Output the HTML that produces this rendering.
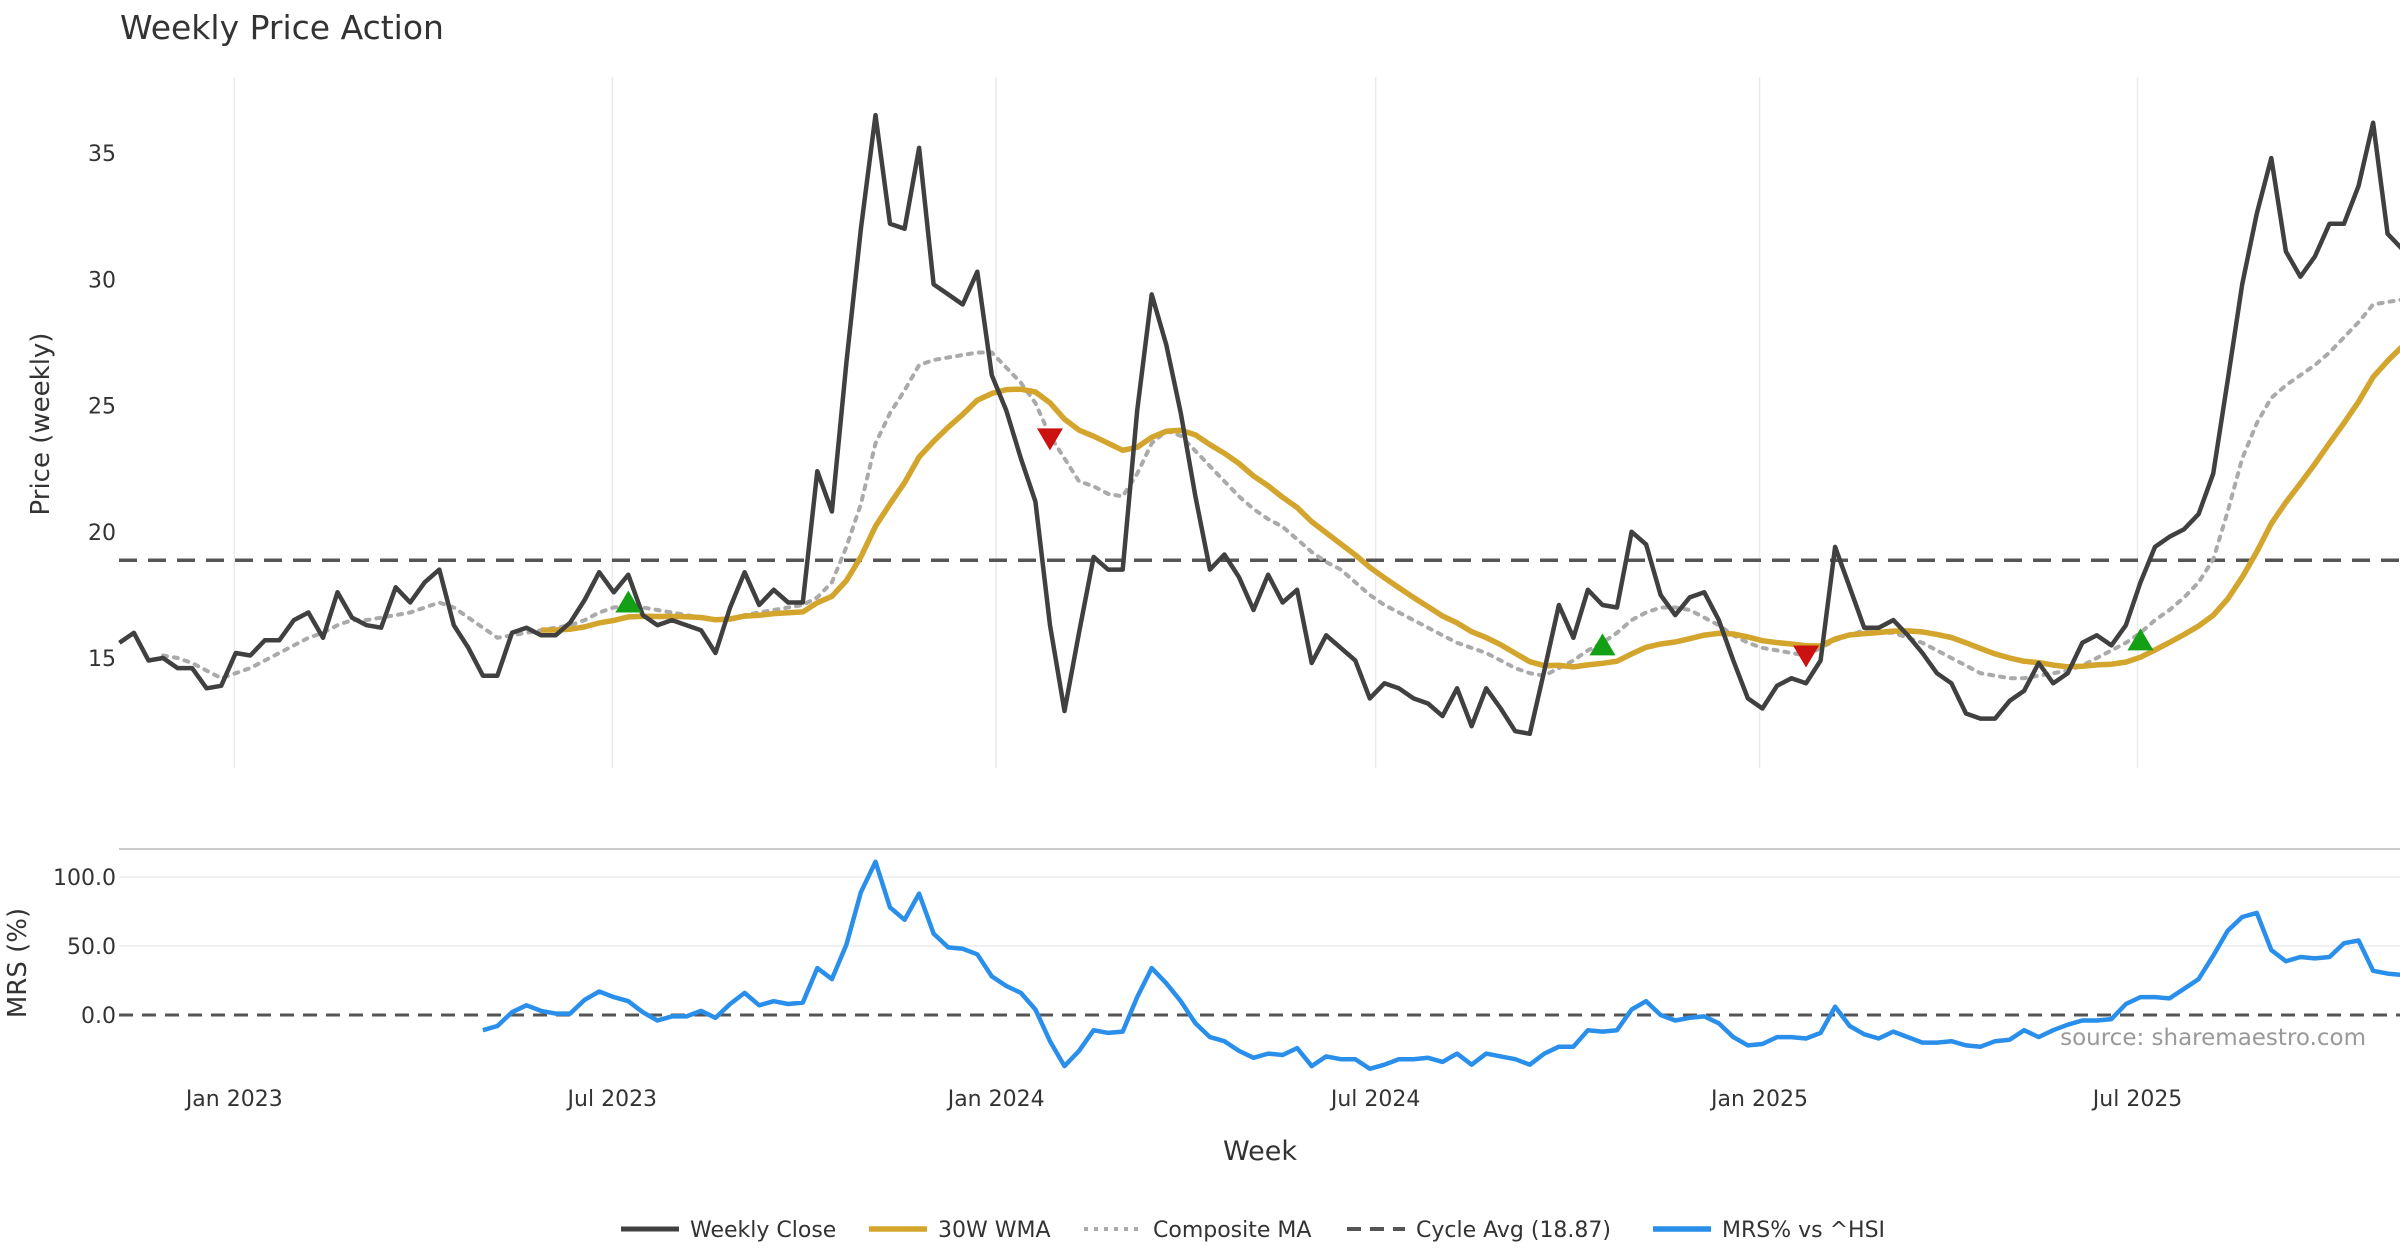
<!DOCTYPE html>
<html><head><meta charset="utf-8"><style>
html,body{margin:0;padding:0;background:#fff;width:2400px;height:1260px;overflow:hidden;font-family:"DejaVu Sans",sans-serif;}
svg text{font-family:"DejaVu Sans","Liberation Sans",sans-serif;}
</style></head><body>
<svg id="chart" width="2400" height="1260" xmlns="http://www.w3.org/2000/svg">
<text x="120" y="39" font-size="33" fill="#333">Weekly Price Action</text>
<g id="grid"></g>
<g id="price"></g>
<g id="mrs"></g>
<g id="axes"></g>
<text transform="translate(49,424) rotate(-90)" text-anchor="middle" font-size="26" fill="#333">Price (weekly)</text>
<text transform="translate(26,963) rotate(-90)" text-anchor="middle" font-size="26" fill="#333">MRS (%)</text>
<text x="1260" y="1160" text-anchor="middle" font-size="27" fill="#333">Week</text>
<text x="2366" y="1045" text-anchor="end" font-size="23" fill="#999">source: sharemaestro.com</text>
<g id="legend"></g>
</svg>
<script>
const closes=[15.6,16.0,14.9,15.0,14.6,14.6,13.8,13.9,15.2,15.1,15.7,15.7,16.5,16.8,15.8,17.6,16.6,16.3,16.2,17.8,17.2,18.0,18.5,16.3,15.4,14.3,14.3,16.0,16.2,15.9,15.9,16.4,17.3,18.4,17.6,18.3,16.7,16.3,16.5,16.3,16.1,15.2,17.0,18.4,17.1,17.7,17.2,17.2,22.4,20.8,26.7,32.0,36.5,32.2,32.0,35.2,29.8,29.4,29.0,30.3,26.2,24.8,22.9,21.2,16.3,12.9,16.0,19.0,18.5,18.5,24.8,29.4,27.4,24.7,21.4,18.5,19.1,18.2,16.9,18.3,17.2,17.7,14.8,15.9,15.4,14.9,13.4,14.0,13.8,13.4,13.2,12.7,13.8,12.3,13.8,13.0,12.1,12.0,14.5,17.1,15.8,17.7,17.1,17.0,20.0,19.5,17.5,16.7,17.4,17.6,16.5,14.9,13.4,13.0,13.9,14.2,14.0,14.9,19.4,17.8,16.2,16.2,16.5,15.9,15.2,14.4,14.0,12.8,12.6,12.6,13.3,13.7,14.8,14.0,14.4,15.6,15.9,15.5,16.3,18.0,19.4,19.8,20.1,20.7,22.3,26.0,29.8,32.6,34.8,31.1,30.1,30.9,32.2,32.2,33.7,36.2,31.8,31.2];
const composite=[null,null,null,15.1,15.0,14.8,14.5,14.2,14.4,14.6,14.9,15.2,15.5,15.8,16.0,16.3,16.5,16.5,16.6,16.7,16.8,17.0,17.2,17.0,16.6,16.2,15.8,15.9,16.0,16.1,16.2,16.3,16.5,16.8,17.0,17.1,17.0,16.9,16.8,16.7,16.6,16.5,16.5,16.7,16.8,16.9,17.0,17.1,17.4,18.0,19.4,21.1,23.5,24.7,25.6,26.6,26.8,26.9,27.0,27.1,27.1,26.5,25.9,25.1,23.8,22.9,22.0,21.8,21.5,21.4,22.3,23.5,24.0,23.8,23.2,22.6,22.0,21.4,20.9,20.5,20.2,19.7,19.2,18.8,18.5,18.0,17.5,17.1,16.8,16.5,16.2,15.9,15.6,15.4,15.2,14.9,14.6,14.4,14.3,14.6,14.9,15.3,15.6,16.0,16.5,16.8,17.0,17.0,16.9,16.6,16.3,15.9,15.6,15.4,15.3,15.2,15.1,15.4,15.7,15.9,16.1,16.0,16.0,15.8,15.6,15.3,15.0,14.7,14.4,14.3,14.2,14.2,14.3,14.4,14.5,14.7,15.0,15.3,15.6,16.0,16.5,16.9,17.4,18.0,18.9,20.8,22.9,24.3,25.3,25.8,26.2,26.6,27.1,27.7,28.3,29.0,29.1,29.2];
const mrsStart=25;
const mrsValues=[-11,-8,2,7,3,1,1,11,17,13,10,2,-4,-1,-1,3,-2,8,16,7,10,8,9,34,26,51,89,111,78,69,88,59,49,48,44,28,21,16,4,-19,-37,-26,-11,-13,-12,13,34,23,10,-6,-16,-19,-26,-31,-28,-29,-24,-37,-30,-32,-32,-39,-36,-32,-32,-31,-34,-28,-36,-28,-30,-32,-36,-28,-23,-23,-11,-12,-11,4,10,0,-4,-2,-1,-6,-16,-22,-21,-16,-16,-17,-13,6,-8,-14,-17,-12,-16,-20,-20,-19,-22,-23,-19,-18,-11,-16,-11,-7,-4,-4,-3,8,13,13,12,19,26,43,61,71,74,47,39,42,41,42,52,54,32,30,29];
const cycleAvg=18.87;
const buyIdx=[35,102,139];
const buyVals=[17.2,15.5,15.7];
const sellIdx=[64,116];
const sellVals=[23.7,15.1];
const xTickPos=[7.9,33.9,60.3,86.4,112.8,138.8];
const xTickLabels=["Jan 2023","Jul 2023","Jan 2024","Jul 2024","Jan 2025","Jul 2025"];
const priceTicks=[15,20,25,30,35];
const mrsTicks=[0,50,100];
const wmaPeriod=30;

const NS="http://www.w3.org/2000/svg";
const X=i=>119.4+i*14.54;
const YP=v=>153+(35-v)*25.25;
const YM=v=>1015-v*1.38;
function mk(tag,attrs,parent){const e=document.createElementNS(NS,tag);for(const k in attrs)e.setAttribute(k,attrs[k]);parent.appendChild(e);return e;}
const grid=document.getElementById('grid'),price=document.getElementById('price'),mrs=document.getElementById('mrs'),axes=document.getElementById('axes');

const wma=closes.map((c,i)=>{if(i<wmaPeriod-1)return null;let s=0,w=0;for(let k=0;k<wmaPeriod;k++){s+=closes[i-wmaPeriod+1+k]*(k+1);w+=k+1;}return s/w;});

xTickPos.forEach((p,j)=>{
 const g=mk('line',{x1:X(p),x2:X(p),y1:77,y2:768,stroke:'#e8ecf0','stroke-width':1.5},grid);
 
 
 const t=mk('text',{x:X(p),y:1106,'text-anchor':'middle','font-size':22,fill:'#333'},axes);
 t.textContent=xTickLabels[j];
 
 
});
priceTicks.forEach(v=>{
 const t=mk('text',{x:116,y:YP(v)+8,'text-anchor':'end','font-size':22,fill:'#333'},axes);
 t.textContent=v;
 
 
});
const sep=mk('line',{x1:119,x2:2400,y1:849,y2:849,stroke:'#ccc','stroke-width':2},grid);


mrsTicks.forEach(v=>{
 if(v!==0){const l=mk('line',{x1:119,x2:2400,y1:YM(v),y2:YM(v),stroke:'#eef0f2','stroke-width':2},grid);
 
 }
 const t=mk('text',{x:116,y:YM(v)+8,'text-anchor':'end','font-size':22,fill:'#333'},axes);
 t.textContent=v.toFixed(1);
 
 
});
const zl=mk('line',{x1:119,x2:2400,y1:YM(0),y2:YM(0),stroke:'#555','stroke-width':3,'stroke-dasharray':'14,9'},mrs);


const ca=mk('line',{x1:119,x2:2400,y1:YP(cycleAvg),y2:YP(cycleAvg),stroke:'#555','stroke-width':3.5,'stroke-dasharray':'18,11'},price);



function path(arr,yf,off){let d='';arr.forEach((v,i)=>{if(v==null)return;d+=(d?'L':'M')+X(i+off).toFixed(1)+','+yf(v).toFixed(1);});return d;}
const cp=mk('path',{d:path(composite,YP,0),fill:'none',stroke:'#aaa','stroke-width':4,'stroke-dasharray':'4,7','stroke-linecap':'round'},price);


const wp=mk('path',{d:path(wma,YP,0),fill:'none',stroke:'#d4a52c','stroke-width':5.5,'stroke-linejoin':'round'},price);


const clp=mk('path',{d:path(closes,YP,0),fill:'none',stroke:'#404040','stroke-width':4.5,'stroke-linejoin':'round'},price);


buyIdx.forEach((i,j)=>{const x=X(i),y=YP(buyVals[j]);
 const m=mk('polygon',{points:`${x-13},${y+10} ${x+13},${y+10} ${x},${y-12}`,fill:'#14a014'},price);
 
 });
sellIdx.forEach((i,j)=>{const x=X(i),y=YP(sellVals[j]);
 const m=mk('polygon',{points:`${x-13},${y-10} ${x+13},${y-10} ${x},${y+12}`,fill:'#cc1111'},price);
 
 });
const mp=mk('path',{d:path(mrsValues,YM,mrsStart),fill:'none',stroke:'#2a8fea','stroke-width':4.5,'stroke-linejoin':'round'},mrs);



const leg=document.getElementById('legend');
const items=[
 {x:621,label:'Weekly Close',stroke:'#404040',dash:null,w:5},
 {x:869,label:'30W WMA',stroke:'#d4a52c',dash:null,w:5.5},
 {x:1084,label:'Composite MA',stroke:'#aaa',dash:'4,6',w:4},
 {x:1347,label:'Cycle Avg (18.87)',stroke:'#555',dash:'14,9',w:4},
 {x:1653,label:'MRS% vs ^HSI',stroke:'#2a8fea',dash:null,w:5.5}];
items.forEach(it=>{
 const g=mk('g',{},leg);
 
 
 const a={x1:it.x,x2:it.x+58,y1:1229,y2:1229,stroke:it.stroke,'stroke-width':it.w};
 if(it.dash)a['stroke-dasharray']=it.dash;
 mk('line',a,g);
 const t=mk('text',{x:it.x+69,y:1237,'font-size':22,fill:'#333'},g);
 t.textContent=it.label;
});
</script>
</body></html>
